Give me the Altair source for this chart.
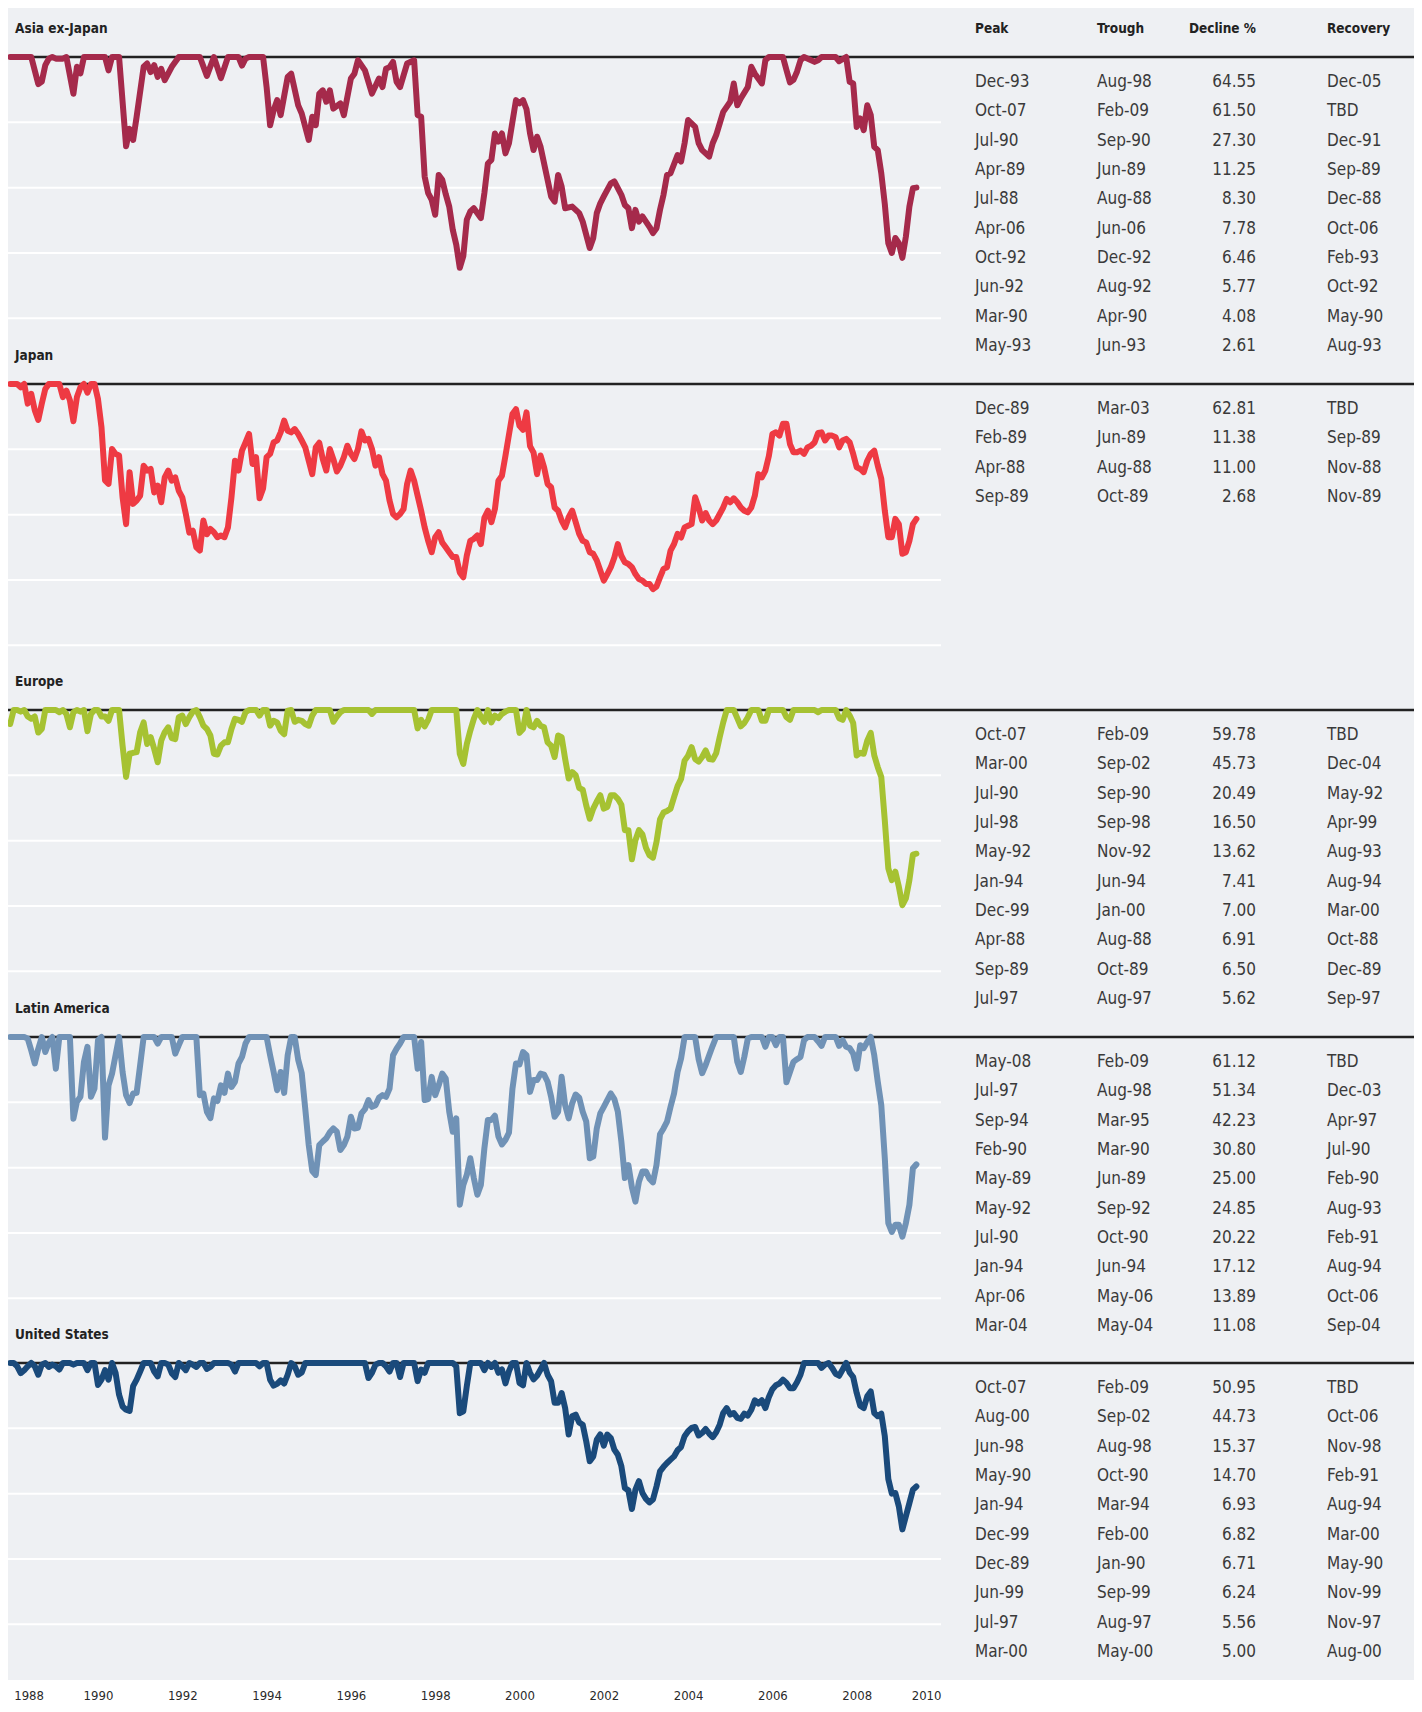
import altair as alt
import pandas as pd

# ------------------------------------------------------------------ data
regions = ["Asia ex-Japan", "Japan", "Europe", "Latin America", "United States"]
colors = ["#A52A4B", "#EE3A43", "#A6C232", "#7092B6", "#1A4A7B"]

# Asia ex-Japan: turning points (month, drawdown %)
asia_dates = [
    "1987-12", "1988-04", "1988-06", "1988-08", "1988-09", "1988-10", "1988-11", "1988-12",
    "1989-01", "1989-03", "1989-04", "1989-06", "1989-07", "1989-08", "1989-09", "1990-03",
    "1990-04", "1990-05", "1990-07", "1990-09", "1990-10", "1990-11", "1990-12", "1991-02",
    "1991-03", "1991-04", "1991-05", "1991-06", "1991-07", "1991-08", "1991-10", "1991-12",
    "1992-06", "1992-08", "1992-10", "1992-12", "1993-02", "1993-05", "1993-06", "1993-07",
    "1993-08", "1993-12", "1994-01", "1994-02", "1994-03", "1994-04", "1994-05", "1994-07",
    "1994-08", "1994-10", "1994-11", "1995-01", "1995-02", "1995-03", "1995-04", "1995-05",
    "1995-06", "1995-07", "1995-08", "1995-10", "1995-11", "1996-01", "1996-02", "1996-03",
    "1996-05", "1996-07", "1996-09", "1996-10", "1996-11", "1996-12", "1997-01", "1997-02",
    "1997-03", "1997-05", "1997-07", "1997-08", "1997-09", "1997-10", "1997-11", "1997-12",
    "1998-01", "1998-02", "1998-03", "1998-04", "1998-05", "1998-06", "1998-07", "1998-08",
    "1998-09", "1998-10", "1998-11", "1998-12", "1999-02", "1999-03", "1999-04", "1999-05",
    "1999-06", "1999-07", "1999-08", "1999-09", "1999-10", "1999-12", "2000-01", "2000-02",
    "2000-03", "2000-04", "2000-05", "2000-06", "2000-07", "2000-09", "2000-10", "2000-11",
    "2000-12", "2001-01", "2001-02", "2001-04", "2001-06", "2001-07", "2001-09", "2001-10",
    "2001-11", "2001-12", "2002-01", "2002-03", "2002-04", "2002-06", "2002-07", "2002-08",
    "2002-09", "2002-10", "2002-11", "2002-12", "2003-01", "2003-02", "2003-03", "2003-04",
    "2003-05", "2003-06", "2003-07", "2003-08", "2003-10", "2003-11", "2003-12", "2004-01",
    "2004-03", "2004-04", "2004-05", "2004-07", "2004-08", "2004-09", "2004-11", "2005-01",
    "2005-02", "2005-03", "2005-04", "2005-06", "2005-07", "2005-08", "2005-10", "2005-11",
    "2005-12", "2006-04", "2006-05", "2006-06", "2006-07", "2006-08", "2006-09", "2006-10",
    "2007-01", "2007-02", "2007-03", "2007-07", "2007-08", "2007-10", "2007-11", "2007-12",
    "2008-01", "2008-02", "2008-03", "2008-04", "2008-05", "2008-06", "2008-07", "2008-08",
    "2008-09", "2008-10", "2008-11", "2008-12", "2009-01", "2009-02", "2009-03", "2009-04",
    "2009-05", "2009-06",
]
asia_values = [
    0, 0, 0, -8.3, -7.5, -2.5, -0.5, 0,
    -0.5, -0.5, 0, -11.25, -3, -5, 0, 0,
    -4.08, 0, 0, -27.3, -22, -25.4, -18.3, -3,
    -2, -4.6, -2.5, -6.1, -3.6, -7.1, -3, 0,
    0, -5.77, 0, -6.46, 0, 0, -2.61, -0.5,
    0, 0, -9.2, -20.9, -16.3, -13.2, -17.8, -6.1,
    -5.1, -14.8, -17.3, -25.4, -18.3, -20.9, -11.2, -10.2,
    -13.7, -10.2, -15.8, -14.2, -17.8, -6.6, -5.1, -1,
    -4.1, -11.2, -6.6, -9.2, -3.6, -3.1, -1.5, -7.6,
    -9.2, -2, -1, -17.8, -18.3, -36.6, -41.7, -43.7,
    -48.3, -36.1, -37.6, -42, -45.8, -52.9, -57.5, -64.55,
    -61, -49.8, -47.3, -46.3, -49.3, -41.7, -32.6, -31.5,
    -23.4, -25.9, -23.4, -29.5, -26.4, -13.2, -14.2, -13.2,
    -16, -23.4, -28.5, -24.4, -27.5, -37.6, -42.7, -44.3,
    -36.1, -39.7, -46.3, -45.8, -47.8, -50.4, -58.5, -55.4,
    -47.8, -44.8, -42.7, -38.7, -38.1, -42.2, -45.3, -46.3,
    -52.4, -46.8, -50.4, -48.8, -50.4, -52, -53.9, -52.4,
    -46.8, -42.2, -36.1, -35.6, -30, -32, -26.4, -19.3,
    -21.4, -26.4, -28.5, -30.5, -26.4, -23.9, -16.8, -13.7,
    -8.1, -14.8, -12.7, -9.2, -3, -5.1, -8.1, -1,
    0, 0, -4, -7.78, -7, -4.5, -1, 0,
    -1.5, -1, 0, 0, -1.3, 0, -7.6, -8.1,
    -21.4, -18.8, -22.4, -14.8, -17.8, -27.5, -28.5, -35.6,
    -45, -57, -60, -55.4, -57, -61.5, -55, -45.8,
    -40.2, -40,
]

# The other four series: one reading per month, starting Dec-1987
monthly_start = "1987-12"
japan_values = [
    0,
    0, 0, -1, 0, -6, -3, -8, -11.0, -6, -1.5, 0, 0,                                   # 1988
    0, 0, -4, -2, -5, -11.38, -4, -1, 0, -2.68, 0, 0,                                  # 1989
    -4.6, -13.3, -29.5, -30.6, -19.9, -21.4, -21.9, -34.7, -42.9, -27, -36.7, -35.7,   # 1990
    -34.2, -25, -26.5, -26, -33.2, -31.1, -36.2, -28.6, -26.5, -29.6, -28.6, -32.7,    # 1991
    -34.7, -39.8, -45.5, -44.9, -50, -51, -41.8, -46, -44.4, -45.4, -46.9, -46.4,      # 1992
    -46.9, -43.9, -34.7, -23.5, -26.5, -20.4, -17.9, -15.3, -24.5, -22.4, -35, -32,    # 1993
    -22.4, -21.4, -17.9, -17.3, -14.8, -11.2, -14.3, -14.8, -13.8, -15.3, -17.3, -19.4,  # 1994
    -23.5, -27.6, -19.4, -18, -23, -26.5, -19.9, -23, -26.8, -25, -22.4, -18.9,        # 1995
    -21.4, -23, -19.9, -14.5, -17.3, -16.8, -19.9, -25, -22.4, -27.6, -29.6, -35.7,    # 1996
    -39.8, -40.8, -39.8, -38.3, -30.6, -26.5, -29.6, -34.2, -38.8, -43.9, -48, -51.5,  # 1997
    -46.9, -45.4, -48.5, -50, -51.5, -53, -53, -57.7, -59.2, -52.5, -48, -47.4,        # 1998
    -46.4, -49, -41, -38.8, -42.3, -38.3, -29.6, -28.1, -22, -15.5, -9.2, -7.7,        # 1999
    -12.8, -14, -8.7, -19, -21, -27.6, -21.9, -25.5, -30.6, -31.6, -37.8, -38.8,       # 2000
    -41.8, -43.9, -40.8, -38.8, -42.3, -45.9, -48, -48.5, -51.5, -52, -54, -57.1,      # 2001
    -60.2, -58.2, -56.1, -53.1, -49, -52.6, -54.6, -55.1, -56.1, -58.2, -59.7, -60.2,  # 2002
    -61.2, -61.2, -62.81, -62, -59.2, -56.6, -56.1, -51, -49, -45.9, -47, -43.9,       # 2003
    -43.4, -42.9, -34.7, -37.8, -41.8, -39.5, -41.8, -42.9, -41.8, -39.8, -37.8, -35.2,  # 2004
    -36.2, -35, -36.2, -37.8, -38.8, -39.3, -37.8, -34.2, -27.6, -28.6, -26.5, -22,    # 2005
    -15.3, -14.8, -15.8, -12.2, -12.2, -18.4, -20.9, -20.9, -20.4, -21.4, -19.4, -18.9,  # 2006
    -17.9, -15, -14.8, -17.3, -15.8, -15.8, -16.3, -19.4, -17.3, -16.8, -17.9, -21.4,  # 2007
    -25.5, -26, -27, -23.5, -21.4, -20.4, -25, -29, -38.8, -46.9, -46.9, -41.3,        # 2008
    -42.9, -52, -51.5, -48, -42.9, -41.3,                                              # 2009
]
europe_values = [
    -4.3,
    0, 0, -0.5, 0, -2, -2.7, -2, -6.91, -5.8, 0, 0, 0,                                 # 1988
    0, -0.7, 0, -1.2, -5.3, -0.7, 0, -0.5, 0, -6.5, -1.2, 0,                           # 1989
    0, -2, -2, -3.3, 0, 0, 0, -10.9, -20.49, -13.4, -13.1, -12.9,                      # 1990
    -6.8, -3.8, -10.4, -8.3, -11.9, -16, -9.4, -6.8, -5.3, -8.6, -8.9, -2.2,           # 1991
    -1.7, -4.3, -2.2, -0.5, 0, -2.2, -4.8, -5.8, -7.8, -13.4, -13.62, -10.9,           # 1992
    -9.9, -9.9, -5.8, -2.7, -3, -3.6, -0.7, 0, 0, 0, -1.7, 0,                          # 1993
    0, -4.8, -3.3, -3.8, -6.3, -7.41, -0.2, 0, -3.6, -3, -3.3, -4.3,                   # 1994
    -4.8, -1.7, 0, 0, 0, 0, 0, -3.6, -2, -0.7, 0, 0,                                   # 1995
    0, 0, 0, 0, 0, 0, -1.2, 0, 0, 0, 0, 0,                                             # 1996
    0, 0, 0, 0, 0, 0, 0, -5.62, -3, -5, -3, 0,                                         # 1997
    0, 0, 0, 0, 0, 0, 0, -13.4, -16.5, -10.4, -6.3, -2.7,                              # 1998
    0, -2, -3.6, 0, -3.8, -1.7, -2.5, -1.2, -0.5, 0, 0, 0,                             # 1999
    -7.0, -5.8, 0, -4.8, -5.3, -3.3, -4.8, -5.3, -9.9, -10.9, -14.4, -7.8,             # 2000
    -8.3, -15, -21, -19, -20, -23.9, -24.4, -29.2, -33.3, -30.2, -28, -26.1,           # 2001
    -30.2, -29.7, -26.1, -26.1, -27.2, -29, -36.8, -36.8, -45.73, -39.9, -36.8, -38.1,  # 2002
    -42.2, -44.5, -45.2, -40.4, -33.5, -31.4, -30.9, -30.2, -26.7, -23.3, -21.1, -15.5,  # 2003
    -14, -11.4, -15, -15.8, -14.4, -12.4, -15, -15.2, -13.2, -8.3, -3.8, 0,            # 2004
    0, 0, -2.5, -5, -4, -2.2, 0, 0, 0, -3.3, -3.3, 0,                                  # 2005
    0, 0, 0, 0, -2.2, -3, 0, 0, 0, 0, 0, 0,                                            # 2006
    0, -0.7, 0, 0, 0, 0, 0, -2.5, -3, 0, -1.7, -4,                                     # 2007
    -13.9, -13.1, -13.4, -9.4, -7, -13.9, -17.5, -20.5, -33.8, -48.5, -52.1, -49.5,    # 2008
    -54.1, -59.78, -57.7, -52.1, -44.3, -44,                                           # 2009
]
latam_values = [
    0,
    0, 0, 0, 0, -0.5, -4.1, -8.1, -3.6, 0, -4.6, -1.7, 0,                              # 1988
    -9.7, 0, 0, 0, 0, -25, -19.8, -18.3, -7.6, -3, -18.3, -15.8,                       # 1989
    -1, 0, -30.8, -14.8, -11.2, -5.6, 0, -10.7, -17.8, -20.22, -17.3, -17.1,           # 1990
    -8.6, 0, 0, 0, 0, -2, 0, 0, 0, 0, -5.1, -2.5,                                      # 1991
    0, 0, 0, 0, 0, -17.8, -17.3, -22.9, -24.85, -18.8, -19.6, -14.8,                   # 1992
    -17.1, -11.2, -15.3, -13.7, -8.1, -6.1, -2, 0, 0, 0, 0, 0,                         # 1993
    0, -5.6, -10.7, -16.3, -10.7, -17.12, -5.6, 0, 0, -7, -11, -21.9,                  # 1994
    -33.1, -41, -42.23, -33.1, -32, -31, -29.2, -28, -29, -34.6, -33.1, -30.5,         # 1995
    -24.4, -28, -27.8, -23.4, -22.1, -19.3, -21.4, -20.9, -18.6, -17.8, -18.3, -15.8,  # 1996
    -5.6, -3.6, -2, 0, 0, 0, 0, -9.7, -1.5, -19.3, -19, -12.2,                         # 1997
    -17.8, -14.8, -11.2, -12.7, -22.9, -29, -24.9, -51.34, -45.3, -42.2, -37.1, -43.2,  # 1998
    -48.3, -45.3, -34.1, -25.4, -25.4, -24.1, -30.5, -32.9, -31.5, -29.3, -15.8, -8.1,  # 1999
    -8.4, -4.6, -5.6, -16.8, -13.2, -13.2, -11.2, -11.5, -13.7, -18.3, -24.4, -22.9,   # 2000
    -12.2, -20.9, -24.9, -20.3, -17.6, -18.6, -22.9, -25.9, -37.1, -36.6, -28, -23.4,  # 2001
    -21.4, -19.3, -17.3, -19, -22.9, -32, -43.2, -39.2, -46, -50.4, -44.3, -41.2,      # 2002
    -41.2, -43.4, -44.5, -39.2, -29.8, -28, -25.9, -21.4, -17.3, -10.7, -6.6, 0,       # 2003
    0, 0, 0, -6.8, -11.08, -8.6, -5.6, -2.7, 0, 0, 0, 0,                               # 2004
    0, 0, -7.6, -10.7, -6.1, -0.5, 0, 0, 0, 0, -3, 0,                                  # 2005
    0, -2.5, 0, 0, -13.89, -10.7, -7.6, -6.8, -6.1, -1, 0, 0,                          # 2006
    0, -1.3, -2.7, 0, 0, 0, 0, -2.7, -1, -3, -3.4, -5.1,                               # 2007
    -9.7, -2.5, -3.4, -1.5, 0, -5.6, -13.7, -20.9, -37.1, -57, -59.7, -57.5,           # 2008
    -57.5, -61.12, -57, -51.4, -40.2, -39,                                             # 2009
]
us_values = [
    0,
    0, -1, -3.1, -2.2, -1, 0, -1, -3.6, -0.5, 0, -1.2, -0.5,                           # 1988
    -1, -2, 0, 0, 0, -0.5, 0, 0, 0, -2.2, 0, 0,                                        # 1989
    -6.71, -5.1, -2.2, -5.1, 0, -3, -9.7, -13.3, -14.3, -14.7, -7.1, -5.1,             # 1990
    -2.6, 0, 0, 0, -2.6, -4.1, 0, 0, -0.5, -3.1, -4.3, 0,                              # 1991
    -1, -2.2, 0, -0.5, -1.2, 0, 0, -1.8, -1.2, 0, 0, 0,                                # 1992
    0, 0, -0.5, -2.6, 0, 0, 0, 0, 0, 0, -1, 0,                                         # 1993
    0, -5.1, -6.93, -6.4, -5.3, -6.3, -3.6, 0, -1, -3.6, -2.9, 0,                      # 1994
    0, 0, 0, 0, 0, 0, 0, 0, 0, 0, 0, 0,                                                # 1995
    0, 0, 0, 0, 0, -4.6, -3, -0.5, 0, 0, -1, -2.6,                                     # 1996
    0, 0, -4.3, 0, 0, 0, 0, -5.56, -2, -3, 0, 0,                                       # 1997
    0, 0, 0, 0, 0, 0, -1, -15.37, -14.8, -7.1, 0, 0,                                   # 1998
    0, 0, -2.2, 0, -1.2, 0, -3, -2, -6.24, -2.5, 0, 0,                                 # 1999
    -6.1, -6.82, 0, -3, -5.0, -3.9, -2, 0, -3.6, -5.6, -12.2, -12.2,                   # 2000
    -9.2, -13.8, -21.9, -16.3, -15.8, -18.2, -18.9, -24, -30.1, -28.6, -23.5, -21.9,   # 2001
    -25.3, -21.9, -23, -26.5, -28.1, -31.6, -38.3, -39, -44.73, -38.8, -36.2, -39.8,   # 2002
    -41.6, -42.7, -41.8, -37.8, -33.2, -31.8, -30.6, -29.6, -28.6, -26.7, -25.7, -22.4,  # 2003
    -20.9, -19.9, -19.6, -22.2, -21.4, -20.2, -21.6, -22.7, -21.2, -18.9, -15.3, -13.8,  # 2004
    -15.8, -15.3, -16.8, -17.1, -15.5, -16.1, -14.3, -11.4, -12.4, -11.4, -13.8, -10.4,  # 2005
    -8, -6.8, -6.3, -5.1, -6.1, -7.7, -7.7, -5.9, -3.6, 0, 0, 0,                       # 2006
    0, 0, -1.5, -0.5, 0, -1.5, -3.3, -3.9, -2, 0, -2.9, -4.3,                          # 2007
    -9.2, -13.1, -13.8, -10.2, -8.7, -15.3, -16.3, -15.5, -22.4, -35.5, -40, -39.8,    # 2008
    -43.9, -50.95, -46.9, -42.9, -38.8, -37.8,                                         # 2009
]

# Drawdown tables
table_cols = ["Peak", "Trough", "Decline %", "Recovery"]
asia_peak = ["Dec-93", "Oct-07", "Jul-90", "Apr-89", "Jul-88", "Apr-06", "Oct-92", "Jun-92", "Mar-90", "May-93"]
asia_trough = ["Aug-98", "Feb-09", "Sep-90", "Jun-89", "Aug-88", "Jun-06", "Dec-92", "Aug-92", "Apr-90", "Jun-93"]
asia_decline = ["64.55", "61.50", "27.30", "11.25", "8.30", "7.78", "6.46", "5.77", "4.08", "2.61"]
asia_recovery = ["Dec-05", "TBD", "Dec-91", "Sep-89", "Dec-88", "Oct-06", "Feb-93", "Oct-92", "May-90", "Aug-93"]

japan_peak = ["Dec-89", "Feb-89", "Apr-88", "Sep-89"]
japan_trough = ["Mar-03", "Jun-89", "Aug-88", "Oct-89"]
japan_decline = ["62.81", "11.38", "11.00", "2.68"]
japan_recovery = ["TBD", "Sep-89", "Nov-88", "Nov-89"]

europe_peak = ["Oct-07", "Mar-00", "Jul-90", "Jul-98", "May-92", "Jan-94", "Dec-99", "Apr-88", "Sep-89", "Jul-97"]
europe_trough = ["Feb-09", "Sep-02", "Sep-90", "Sep-98", "Nov-92", "Jun-94", "Jan-00", "Aug-88", "Oct-89", "Aug-97"]
europe_decline = ["59.78", "45.73", "20.49", "16.50", "13.62", "7.41", "7.00", "6.91", "6.50", "5.62"]
europe_recovery = ["TBD", "Dec-04", "May-92", "Apr-99", "Aug-93", "Aug-94", "Mar-00", "Oct-88", "Dec-89", "Sep-97"]

latam_peak = ["May-08", "Jul-97", "Sep-94", "Feb-90", "May-89", "May-92", "Jul-90", "Jan-94", "Apr-06", "Mar-04"]
latam_trough = ["Feb-09", "Aug-98", "Mar-95", "Mar-90", "Jun-89", "Sep-92", "Oct-90", "Jun-94", "May-06", "May-04"]
latam_decline = ["61.12", "51.34", "42.23", "30.80", "25.00", "24.85", "20.22", "17.12", "13.89", "11.08"]
latam_recovery = ["TBD", "Dec-03", "Apr-97", "Jul-90", "Feb-90", "Aug-93", "Feb-91", "Aug-94", "Oct-06", "Sep-04"]

us_peak = ["Oct-07", "Aug-00", "Jun-98", "May-90", "Jan-94", "Dec-99", "Dec-89", "Jun-99", "Jul-97", "Mar-00"]
us_trough = ["Feb-09", "Sep-02", "Aug-98", "Oct-90", "Mar-94", "Feb-00", "Jan-90", "Sep-99", "Aug-97", "May-00"]
us_decline = ["50.95", "44.73", "15.37", "14.70", "6.93", "6.82", "6.71", "6.24", "5.56", "5.00"]
us_recovery = ["TBD", "Oct-06", "Nov-98", "Feb-91", "Aug-94", "Mar-00", "May-90", "Nov-99", "Nov-97", "Aug-00"]

year_ticks = [1988, 1990, 1992, 1994, 1996, 1998, 2000, 2002, 2004, 2006, 2008, 2010]
grid_values = [-20, -40, -60, -80]

# ------------------------------------------------------------------ helpers
def from_dates(dates, values):
    p = pd.PeriodIndex(dates, freq="M")
    return pd.DataFrame({"t": p.year + (p.month - 1) / 12.0, "v": values})


def monthly(start, values):
    p = pd.period_range(start, periods=len(values), freq="M")
    return pd.DataFrame({"t": p.year + (p.month - 1) / 12.0, "v": values})


series = [
    from_dates(asia_dates, asia_values),
    monthly(monthly_start, japan_values),
    monthly(monthly_start, europe_values),
    monthly(monthly_start, latam_values),
    monthly(monthly_start, us_values),
]
tables = [
    (asia_peak, asia_trough, asia_decline, asia_recovery),
    (japan_peak, japan_trough, japan_decline, japan_recovery),
    (europe_peak, europe_trough, europe_decline, europe_recovery),
    (latam_peak, latam_trough, latam_decline, latam_recovery),
    (us_peak, us_trough, us_decline, us_recovery),
]

# ------------------------------------------------------------------ layout / style
FONT = "DejaVu Sans Condensed, DejaVu Sans, sans-serif"
BG = "#eef0f3"
W_LINE = 933
W_TAB = 473              # keeps the page free of scrollbars (1406 px total)
PX_PER_PCT = 3.266
ZERO_OFF = 49            # px from top of a line panel to its 0% line
LINE_H = [327, 326, 327, 326, 366]
X0, X1 = 1987.865, 2010.0
ROW_H = 29.33
FIRST_ROW = 25.0         # px below the 0% line
HEADER_Y = 20.5          # px from the top of the first table panel
TITLE_ABOVE = 28
ZERO_W = 2.5             # thickness of the black 0% line (px)
GRID_W = 2.0             # thickness of the white grid lines (px)


def hband(values, thickness, yscale, color, width):
    """Horizontal lines drawn as thin rects (exact bounds, no stroke overflow)."""
    half = thickness / 2.0 / PX_PER_PCT
    return alt.Chart(pd.DataFrame({"g": values})).transform_calculate(
        g1=f"datum.g + {half}", g2=f"datum.g - {half}"
    ).mark_rect(color=color).encode(
        x=alt.value(0), x2=alt.value(width),
        y=alt.Y("g1:Q", scale=yscale, axis=None), y2="g2:Q",
    )


line_panels = []
for i, name in enumerate(regions):
    h = LINE_H[i]
    yscale = alt.Scale(domain=[-(h - ZERO_OFF) / PX_PER_PCT, ZERO_OFF / PX_PER_PCT],
                       nice=False, zero=False)
    if i == 4:
        xaxis = alt.Axis(values=year_ticks, format="d", labelFlush=10, domain=False,
                         ticks=False, tickSize=0, grid=False, title=None,
                         labelPadding=9, labelFont=FONT, labelFontSize=13,
                         labelColor="#2a2a2a")
    else:
        xaxis = None
    xenc = alt.X("t:Q", scale=alt.Scale(domain=[X0, X1], nice=False, zero=False), axis=xaxis)

    grid = hband(grid_values, GRID_W, yscale, "white", W_LINE)
    zero = hband([0], ZERO_W, yscale, "#222222", W_LINE)
    line = alt.Chart(series[i]).mark_line(
        color=colors[i], strokeWidth=6, strokeJoin="round", strokeCap="round", clip=True
    ).encode(x=xenc, y=alt.Y("v:Q", scale=yscale, axis=None))
    title = alt.Chart(pd.DataFrame({"label": [name]})).mark_text(
        align="left", baseline="middle", font=FONT, fontSize=13.5, fontWeight="bold",
        color="#222222"
    ).encode(x=alt.value(7), y=alt.value(ZERO_OFF - TITLE_ABOVE), text="label:N")

    line_panels.append(alt.layer(grid, zero, line, title).properties(width=W_LINE, height=h))

col_x = [34, 156, 315, 386]
col_align = ["left", "left", "right", "left"]

# table panels run from one 0% line to the next
tab_h = [ZERO_OFF + LINE_H[0], LINE_H[1], LINE_H[2], LINE_H[3], LINE_H[4] - ZERO_OFF]

table_panels = []
for i, name in enumerate(regions):
    z = ZERO_OFF if i == 0 else 0.0
    h = tab_h[i]
    row0 = z + FIRST_ROW
    yscale = alt.Scale(domain=[-row0 / ROW_H, (h - row0) / ROW_H], reverse=True,
                       nice=False, zero=False)
    peak, trough, decline, recovery = tables[i]
    df = pd.DataFrame({"row": list(range(len(peak))), "Peak": peak, "Trough": trough,
                       "Decline %": decline, "Recovery": recovery})
    layers = [
        alt.Chart(pd.DataFrame({"a": [0]})).mark_rect(color="#222222").encode(
            x=alt.value(0), x2=alt.value(W_TAB),
            y=alt.value(z - ZERO_W / 2), y2=alt.value(z + ZERO_W / 2))
    ]
    for c, cx, ca in zip(table_cols, col_x, col_align):
        layers.append(
            alt.Chart(df).mark_text(align=ca, baseline="middle", font=FONT, fontSize=17,
                                    color="#3a3a3a").encode(
                x=alt.value(cx),
                y=alt.Y("row:Q", scale=yscale, axis=None),
                text=alt.Text(f"{c}:N"),
            )
        )
    if i == 0:
        hdr = pd.DataFrame({"row": [(HEADER_Y - row0) / ROW_H] * 4, "label": table_cols,
                            "col": list(range(4))})
        for k, (cx, ca) in enumerate(zip(col_x, col_align)):
            layers.append(
                alt.Chart(hdr[hdr["col"] == k]).mark_text(
                    align=ca, baseline="middle", font=FONT, fontSize=13.5, fontWeight="bold",
                    color="#222222"
                ).encode(x=alt.value(cx), y=alt.Y("row:Q", scale=yscale, axis=None),
                         text="label:N")
            )
    table_panels.append(alt.layer(*layers).properties(width=W_TAB, height=h))

left = alt.vconcat(*line_panels, spacing=0, bounds="flush")
right = alt.vconcat(*table_panels, spacing=0, bounds="flush")
chart = alt.hconcat(left, right, spacing=0).properties(
    padding=0
).configure_view(fill=BG, stroke="transparent", strokeWidth=0)

chart.save("out.html", embed_options={"renderer": "svg", "actions": False})
